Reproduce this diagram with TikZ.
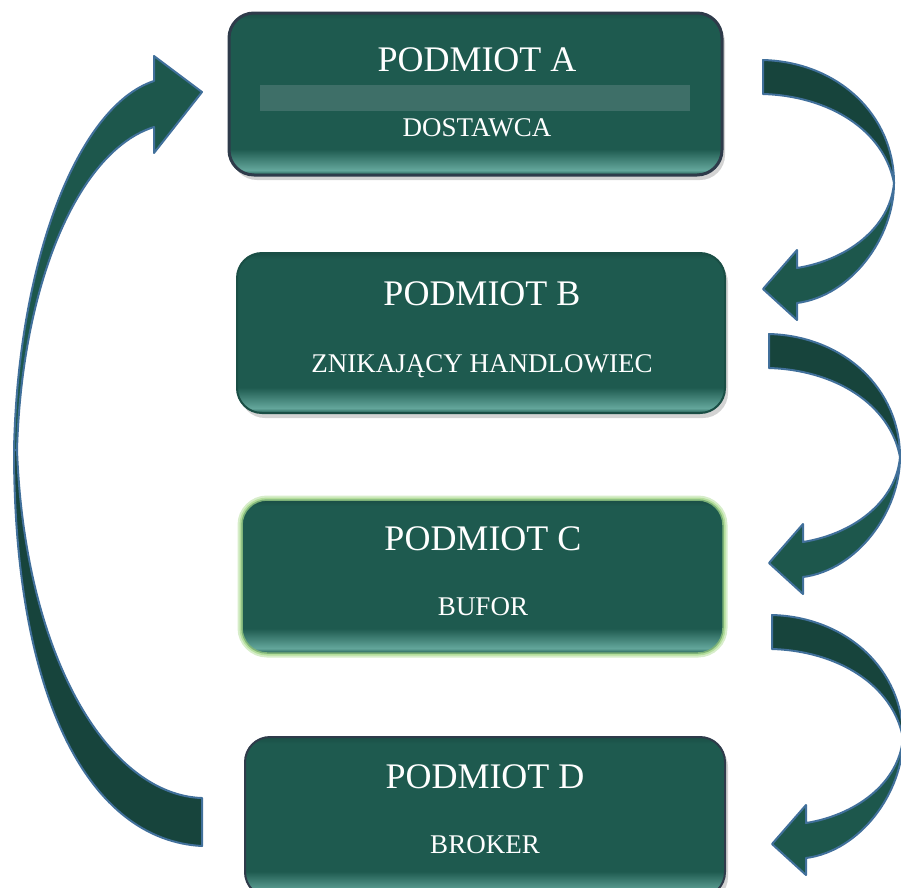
\documentclass[tikz,border=0pt]{standalone}
\usepackage{fontspec}
\setmainfont{Liberation Serif}
\usetikzlibrary{shadows}

\definecolor{boxbase}{HTML}{1E5A4F}
\definecolor{boxtop}{HTML}{1A4E45}
\definecolor{boxgloss}{HTML}{64A79C}
\definecolor{boxrim}{HTML}{2E3B4A}
\definecolor{bandfill}{HTML}{3E6F68}
\definecolor{arrowdark}{HTML}{17443C}
\definecolor{arrowlight}{HTML}{1D574C}
\definecolor{arrowrim}{HTML}{41709B}
\definecolor{glowgreen}{HTML}{A6D889}

\pgfdeclareverticalshading{glossy}{100bp}{color(0bp)=(boxbase); color(25bp)=(boxbase);
  color(26.5bp)=(boxgloss); color(33bp)=(boxbase); color(73bp)=(boxbase);
  color(75bp)=(boxtop); color(100bp)=(boxtop)}

\tikzset{
  entity/.style={rounded corners=25pt, shading=glossy, draw=boxrim, line width=2pt,
    inner sep=0pt},
  shadowed/.style={drop shadow={shadow xshift=3pt, shadow yshift=-5pt, opacity=0.35}},
  entname/.style={text=white, font=\fontsize{36}{40}\selectfont, anchor=base},
  entrole/.style={text=white, font=\fontsize{27}{30}\selectfont, anchor=base},
  ribbon/.style={draw=arrowrim, line width=2pt, line join=round},
  bendarrow/.pic={
    % upper half of the bent ribbon
    \filldraw[ribbon, fill=arrowdark]
      (0,0) .. controls (75,2) and (131,55) .. (131,123)
            .. controls (121,70) and (66,36) .. (0,34) -- cycle;
    % lower half with the head
    \filldraw[ribbon, fill=arrowlight]
      (131,123) .. controls (131,178) and (88,236) .. (34,243)
      -- (34,260) -- (0,229) -- (34,190) -- (34,208)
      .. controls (84,200) and (127,168) .. (131,123) -- cycle;
  }
}

\begin{document}
\begin{tikzpicture}[x=1pt,y=-1pt]
  \useasboundingbox (0,0) rectangle (901,887);

  % the four boxes
  \node[entity, shadowed, line width=3pt, minimum width=493pt, minimum height=162pt] (boxA) at (475.5,94) {};
  \node[entity, shadowed, draw=boxtop, minimum width=488pt, minimum height=160pt] (boxB) at (481,333) {};
  \node[entity, draw=glowgreen!70!boxbase, line width=1.5pt,
        preaction={draw=glowgreen, line width=9pt, opacity=0.45},
        preaction={draw=glowgreen, line width=5pt, opacity=0.7},
        minimum width=481pt, minimum height=153pt] (boxC) at (482.5,576.5) {};
  \node[entity, shadowed, minimum width=480pt, minimum height=160pt] (boxD) at (485,817) {};

  \fill[bandfill] (260,85) rectangle (690,111);

  \node[entname] (nameA) at (477,71)  {PODMIOT A};
  \node[entrole] (roleA) at (477,136) {DOSTAWCA};
  \node[entname] (nameB) at (482,305) {PODMIOT B};
  \node[entrole] (roleB) at (482,372) {ZNIKAJĄCY HANDLOWIEC};
  \node[entname] (nameC) at (483,550) {PODMIOT C};
  \node[entrole] (roleC) at (483,615) {BUFOR};
  \node[entname] (nameD) at (485,788) {PODMIOT D};
  \node[entrole] (roleD) at (485,853) {BROKER};

  % arrows down the right side
  \coordinate (tailAB) at (763,60);
  \coordinate (tailBC) at (769,334);
  \coordinate (tailCD) at (772,615);
  \pic at (tailAB) {bendarrow};
  \pic at (tailBC) {bendarrow};
  \pic at (tailCD) {bendarrow};

  % long arrow back from D to A
  \filldraw[ribbon, fill=arrowlight]
    (14,450) .. controls (18,260) and (78,106) .. (154,81)
    -- (154,56) -- (202,92) -- (154,153) -- (154,127)
    .. controls (80,150) and (22,280) .. (17,450) -- cycle;
  \filldraw[ribbon, fill=arrowdark]
    (14,450) .. controls (14,700) and (90,840) .. (202,846)
    -- (202,798) .. controls (110,795) and (25,660) .. (17,450) -- cycle;
\end{tikzpicture}
\end{document}
